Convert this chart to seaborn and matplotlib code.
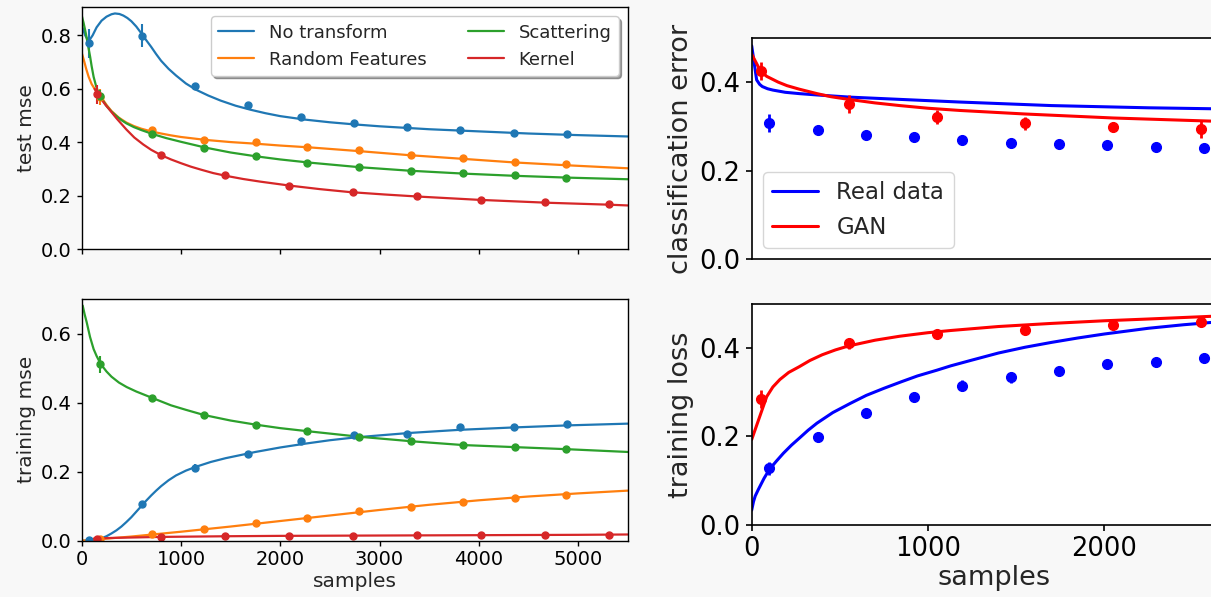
import matplotlib
matplotlib.use("Agg")
import matplotlib.pyplot as plt
import seaborn as sns

# ---------------- left panels: regression (test / training mse) ----------------
nt_x = [70, 605, 1140, 1675, 2210, 2745, 3280, 3815, 4350, 4885]
nt_test = [0.770, 0.799, 0.611, 0.539, 0.494, 0.471, 0.458, 0.445, 0.435, 0.430]
nt_test_err = [0.053, 0.044, 0.010, 0.006, 0.005, 0.005, 0.005, 0.005, 0.005, 0.005]
nt_train = [0.003, 0.105, 0.210, 0.250, 0.289, 0.307, 0.309, 0.329, 0.330, 0.338]
nt_train_err = [0.003, 0.006, 0.012, 0.006, 0.006, 0.005, 0.005, 0.006, 0.005, 0.006]

rf_x = [185, 707, 1229, 1751, 2273, 2795, 3317, 3839, 4361, 4883]
rf_test = [0.571, 0.445, 0.409, 0.402, 0.384, 0.370, 0.353, 0.342, 0.327, 0.318]
rf_test_err = [0.030, 0.006, 0.005, 0.005, 0.005, 0.005, 0.005, 0.005, 0.005, 0.005]
rf_train = [0.005, 0.019, 0.033, 0.050, 0.066, 0.085, 0.099, 0.111, 0.124, 0.133]
rf_train_err = [0.003, 0.004, 0.004, 0.004, 0.004, 0.004, 0.004, 0.005, 0.005, 0.005]

sc_x = [185, 707, 1229, 1751, 2273, 2795, 3317, 3839, 4361, 4883]
sc_test = [0.575, 0.430, 0.378, 0.348, 0.323, 0.307, 0.294, 0.284, 0.277, 0.268]
sc_test_err = [0.020, 0.006, 0.005, 0.005, 0.005, 0.005, 0.005, 0.005, 0.005, 0.005]
sc_train = [0.511, 0.413, 0.363, 0.335, 0.317, 0.301, 0.288, 0.277, 0.271, 0.265]
sc_train_err = [0.025, 0.006, 0.005, 0.005, 0.005, 0.005, 0.005, 0.005, 0.005, 0.005]

kn_x = [155, 800, 1445, 2090, 2735, 3380, 4025, 4670, 5315]
kn_test = [0.580, 0.353, 0.276, 0.237, 0.213, 0.199, 0.186, 0.176, 0.169]
kn_test_err = [0.035, 0.006, 0.005, 0.005, 0.005, 0.005, 0.005, 0.005, 0.005]
kn_train = [0.005, 0.012, 0.013, 0.0136, 0.0136, 0.0155, 0.0155, 0.0165, 0.017]
kn_train_err = [0.002, 0.002, 0.002, 0.002, 0.002, 0.002, 0.002, 0.002, 0.002]

# fitted curves
nt_test_fit_x = [0, 35, 70, 110, 150, 200, 250, 300, 335, 380, 420, 460, 500, 550, 600, 650,
                 700, 750, 800, 875, 950, 1050, 1150, 1275, 1400, 1550, 1700, 1850, 2000,
                 2250, 2500, 2750, 3000, 3500, 4000, 4500, 5000, 5500]
nt_test_fit = [0.838, 0.800, 0.778, 0.800, 0.830, 0.855, 0.870, 0.879, 0.882, 0.880, 0.874,
               0.865, 0.853, 0.833, 0.808, 0.782, 0.757, 0.730, 0.705, 0.675, 0.650, 0.620,
               0.597, 0.575, 0.556, 0.537, 0.522, 0.509, 0.498, 0.485, 0.475, 0.467, 0.460,
               0.449, 0.441, 0.433, 0.427, 0.422]
rf_test_fit_x = [0, 20, 45, 70, 100, 130, 165, 200, 250, 300, 375, 450, 525, 600, 700, 800,
                 900, 1000, 1250, 1500, 1750, 2000, 2300, 2800, 3300, 3850, 4350, 4900, 5500]
rf_test_fit = [0.735, 0.710, 0.675, 0.645, 0.618, 0.600, 0.583, 0.567, 0.540, 0.517, 0.492,
               0.474, 0.461, 0.451, 0.441, 0.433, 0.426, 0.420, 0.409, 0.401, 0.395, 0.388,
               0.381, 0.367, 0.352, 0.338, 0.325, 0.314, 0.303]
sc_test_fit_x = [0, 20, 40, 60, 85, 100, 120, 145, 170, 210, 250, 300, 350, 400, 450, 525,
                 600, 715, 850, 1000, 1250, 1500, 1750, 2000, 2300, 2800, 3300, 3850, 4350,
                 4900, 5500]
sc_test_fit = [0.875, 0.845, 0.810, 0.770, 0.720, 0.685, 0.645, 0.610, 0.585, 0.558, 0.536,
               0.515, 0.498, 0.483, 0.471, 0.457, 0.446, 0.431, 0.416, 0.402, 0.380, 0.362,
               0.348, 0.336, 0.324, 0.307, 0.294, 0.283, 0.275, 0.268, 0.262]
kn_test_fit_x = [130, 165, 200, 240, 285, 350, 450, 530, 620, 700, 800, 900, 1000, 1100,
                 1200, 1325, 1450, 1625, 1800, 2100, 2400, 2700, 3050, 3400, 4000, 4700,
                 5300, 5500]
kn_test_fit = [0.600, 0.578, 0.560, 0.540, 0.520, 0.490, 0.448, 0.418, 0.392, 0.372, 0.352,
               0.336, 0.322, 0.309, 0.298, 0.285, 0.275, 0.263, 0.253, 0.238, 0.225, 0.214,
               0.205, 0.197, 0.185, 0.174, 0.167, 0.164]

nt_train_fit_x = [0, 100, 150, 200, 250, 300, 350, 400, 450, 500, 550, 600, 650, 700, 750,
                  800, 875, 950, 1050, 1150, 1300, 1450, 1600, 1750, 2000, 2250, 2500, 2750,
                  3000, 3300, 3800, 4350, 4900, 5500]
nt_train_fit = [0.000, 0.001, 0.003, 0.007, 0.013, 0.021, 0.030, 0.041, 0.054, 0.068, 0.084,
                0.100, 0.116, 0.131, 0.145, 0.158, 0.175, 0.189, 0.203, 0.214, 0.228, 0.239,
                0.248, 0.257, 0.270, 0.281, 0.291, 0.299, 0.305, 0.312, 0.321, 0.328, 0.334,
                0.339]
rf_train_fit_x = [0, 500, 1000, 1500, 2000, 2500, 3000, 3500, 4000, 4500, 5000, 5500]
rf_train_fit = [0.000, 0.012, 0.026, 0.041, 0.057, 0.073, 0.089, 0.104, 0.117, 0.128, 0.137,
                0.145]
sc_train_fit_x = [10, 30, 50, 84, 120, 150, 191, 250, 300, 375, 453, 550, 715, 900, 1050,
                  1232, 1500, 1755, 2000, 2279, 2800, 3322, 3842, 4362, 4889, 5500]
sc_train_fit = [0.681, 0.655, 0.633, 0.590, 0.555, 0.535, 0.512, 0.490, 0.475, 0.458, 0.445,
                0.432, 0.413, 0.392, 0.379, 0.364, 0.348, 0.336, 0.326, 0.317, 0.301, 0.288,
                0.277, 0.271, 0.265, 0.257]
kn_train_fit_x = [120, 300, 800, 1500, 2000, 3000, 4000, 5000, 5500]
kn_train_fit = [0.006, 0.008, 0.011, 0.013, 0.014, 0.015, 0.016, 0.017, 0.018]

# ---------------- right panels: real data vs GAN ----------------
real_x = [100, 374, 648, 922, 1195, 1469, 1743, 2017, 2291, 2565]
real_err_pts = [0.307, 0.291, 0.281, 0.275, 0.270, 0.263, 0.261, 0.257, 0.254, 0.251]
real_err_sd = [0.020, 0.005, 0.005, 0.005, 0.005, 0.005, 0.005, 0.005, 0.005, 0.005]
real_loss_pts = [0.128, 0.199, 0.254, 0.290, 0.315, 0.334, 0.348, 0.365, 0.368, 0.378]
real_loss_sd = [0.015, 0.012, 0.005, 0.010, 0.012, 0.012, 0.010, 0.005, 0.010, 0.012]

gan_x = [50, 550, 1050, 1550, 2050, 2550]
gan_err_pts = [0.425, 0.351, 0.321, 0.307, 0.299, 0.294]
gan_err_sd = [0.020, 0.020, 0.015, 0.015, 0.010, 0.020]
gan_loss_pts = [0.285, 0.411, 0.432, 0.442, 0.452, 0.460]
gan_loss_sd = [0.020, 0.012, 0.005, 0.005, 0.005, 0.005]

real_err_fit_x = [0, 28, 45, 60, 90, 120, 190, 270, 370, 560, 840, 1180, 1700, 2250, 2750]
real_err_fit = [0.482, 0.405, 0.395, 0.390, 0.385, 0.382, 0.377, 0.374, 0.371, 0.366, 0.361,
                0.355, 0.347, 0.342, 0.339]
gan_err_fit_x = [0, 50, 85, 120, 150, 200, 270, 370, 450, 550, 700, 840, 1000, 1180, 1550,
                 2050, 2600, 2750]
gan_err_fit = [0.463, 0.425, 0.413, 0.406, 0.400, 0.392, 0.384, 0.374, 0.367, 0.361, 0.353,
               0.347, 0.341, 0.336, 0.328, 0.319, 0.312, 0.311]
real_loss_fit_x = [0, 10, 20, 38, 70, 100, 140, 180, 225, 270, 320, 370, 460, 560, 650, 750,
                   850, 940, 1050, 1130, 1250, 1400, 1550, 1700, 1850, 2000, 2250, 2450, 2600,
                   2750]
real_loss_fit = [0.033, 0.052, 0.065, 0.080, 0.105, 0.125, 0.144, 0.162, 0.180, 0.196, 0.214,
                 0.230, 0.254, 0.275, 0.293, 0.309, 0.324, 0.337, 0.350, 0.360, 0.373, 0.389,
                 0.402, 0.413, 0.423, 0.432, 0.445, 0.453, 0.458, 0.462]
gan_loss_fit_x = [0, 85, 120, 160, 210, 270, 330, 400, 475, 550, 700, 840, 1000, 1130, 1400,
                  1700, 2000, 2250, 2600, 2750]
gan_loss_fit = [0.193, 0.290, 0.312, 0.329, 0.345, 0.358, 0.372, 0.385, 0.396, 0.405, 0.418,
                0.427, 0.435, 0.440, 0.449, 0.456, 0.462, 0.466, 0.472, 0.474]

sns.set_style("ticks")
plt.rcParams["font.family"] = "DejaVu Sans"
plt.rcParams["axes.edgecolor"] = "black"
plt.rcParams["axes.linewidth"] = 1.0
plt.rcParams["xtick.color"] = "black"
plt.rcParams["ytick.color"] = "black"

W, H = 1211, 597
fig = plt.figure(figsize=(W / 100, H / 100), dpi=100, facecolor="#f8f8f8")


def box(x0, y_top, x1, y_bot):
    # pixel box -> figure fraction
    return [x0 / W, 1 - y_bot / H, (x1 - x0) / W, (y_bot - y_top) / H]


ax_test = fig.add_axes(box(81.7, 7.3, 627.7, 249.3))
ax_train = fig.add_axes(box(81.7, 299, 627.7, 540.7))
ax_cls = fig.add_axes(box(751.7, 37.8, 751.7 + 2750 * 0.1763, 259.3))
ax_loss = fig.add_axes(box(751.7, 304, 751.7 + 2750 * 0.1763, 524.7))

left_series = [
    ("No transform", "#1f77b4", nt_x, nt_test, nt_test_err, nt_test_fit_x, nt_test_fit,
     nt_train, nt_train_err, nt_train_fit_x, nt_train_fit),
    ("Random Features", "#ff7f0e", rf_x, rf_test, rf_test_err, rf_test_fit_x, rf_test_fit,
     rf_train, rf_train_err, rf_train_fit_x, rf_train_fit),
    ("Scattering", "#2ca02c", sc_x, sc_test, sc_test_err, sc_test_fit_x, sc_test_fit,
     sc_train, sc_train_err, sc_train_fit_x, sc_train_fit),
    ("Kernel", "#d62728", kn_x, kn_test, kn_test_err, kn_test_fit_x, kn_test_fit,
     kn_train, kn_train_err, kn_train_fit_x, kn_train_fit),
]

for name, col, px, te, tee, tfx, tf, tr, tre, rfx, rfit in left_series:
    sns.lineplot(x=tfx, y=tf, ax=ax_test, color=col, lw=1.6, label=name, estimator=None)
    ax_test.errorbar(px, te, yerr=tee, fmt="o", color=col, ms=5, elinewidth=1.5, capsize=0)
    sns.lineplot(x=rfx, y=rfit, ax=ax_train, color=col, lw=1.6, estimator=None)
    ax_train.errorbar(px, tr, yerr=tre, fmt="o", color=col, ms=5, elinewidth=1.5, capsize=0)

for ax in (ax_test, ax_train):
    ax.set_xlim(0, 5500)
    ax.set_xticks([0, 1000, 2000, 3000, 4000, 5000])
    ax.tick_params(labelsize=14, length=3.5, width=1)
    ax.set_facecolor("white")

ax_test.set_ylim(0, 0.905)
ax_test.set_yticks([0.0, 0.2, 0.4, 0.6, 0.8])
ax_test.set_xticklabels([])
ax_test.set_ylabel("test mse", fontsize=14.5)
ax_test.legend(loc="upper right", ncol=2, fontsize=13, shadow=True, frameon=True,
               columnspacing=2.3, handlelength=2.0)

ax_train.set_ylim(0, 0.7)
ax_train.set_yticks([0.0, 0.2, 0.4, 0.6])
ax_train.set_ylabel("training mse", fontsize=14.5)
ax_train.set_xlabel("samples", fontsize=14.5, labelpad=2)
if ax_train.get_legend() is not None:
    ax_train.get_legend().remove()

# right panels
sns.lineplot(x=real_err_fit_x, y=real_err_fit, ax=ax_cls, color="blue", lw=2.2,
             label="Real data", estimator=None)
sns.lineplot(x=gan_err_fit_x, y=gan_err_fit, ax=ax_cls, color="red", lw=2.2,
             label="GAN", estimator=None)
ax_cls.errorbar(real_x, real_err_pts, yerr=real_err_sd, fmt="o", color="blue", ms=7,
                elinewidth=2, capsize=0)
ax_cls.errorbar(gan_x, gan_err_pts, yerr=gan_err_sd, fmt="o", color="red", ms=7,
                elinewidth=2, capsize=0)

sns.lineplot(x=real_loss_fit_x, y=real_loss_fit, ax=ax_loss, color="blue", lw=2.2,
             estimator=None)
sns.lineplot(x=gan_loss_fit_x, y=gan_loss_fit, ax=ax_loss, color="red", lw=2.2,
             estimator=None)
ax_loss.errorbar(real_x, real_loss_pts, yerr=real_loss_sd, fmt="o", color="blue", ms=7,
                 elinewidth=2, capsize=0)
ax_loss.errorbar(gan_x, gan_loss_pts, yerr=gan_loss_sd, fmt="o", color="red", ms=7,
                 elinewidth=2, capsize=0)

for ax in (ax_cls, ax_loss):
    ax.set_xlim(0, 2750)
    ax.set_ylim(0, 0.5)
    ax.set_yticks([0.0, 0.2, 0.4])
    ax.tick_params(labelsize=18.5, length=4.5, width=1.2)
    ax.set_facecolor("white")
    for s in ax.spines.values():
        s.set_linewidth(1.2)

ax_cls.set_xticks([])
ax_cls.set_ylabel("classification error", fontsize=19.5)
ax_cls.legend(loc="lower left", fontsize=16.5, handlelength=2.0)

ax_loss.set_xticks([0, 1000, 2000])
ax_loss.set_ylabel("training loss", fontsize=19.5)
ax_loss.set_xlabel("samples", fontsize=19.5, labelpad=2)

fig.savefig("out.png", dpi=100, facecolor=fig.get_facecolor())
